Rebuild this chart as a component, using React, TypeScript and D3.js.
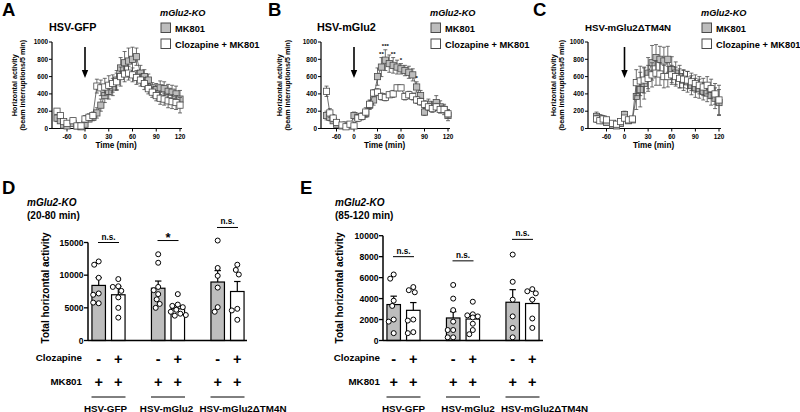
import React from 'react';
import * as d3 from 'd3';

const FONT = "'Liberation Sans', Arial, Helvetica, sans-serif";

// ---------- time-course data (panels A-C) ----------
const TIMES = [-75, -70, -65, -60, -15, -10, -5, 0, 5, 10, 15, 20, 25, 30, 35, 40, 45, 50, 55, 60, 65, 70, 75, 80, 85, 90, 95, 100, 105, 110, 115, 120];
const X_TICKS = [-60, 0, 30, 60, 90, 120];
const Y_TICKS_TIME = [0, 200, 400, 600, 800, 1000];

const A_MK = [120, 90, 40, 30, 60, 30, 20, 50, 110, 130, 180, 270, 380, 430, 480, 560, 700, 760, 780, 800, 830, 640, 600, 560, 470, 450, 470, 460, 430, 420, 400, 340];
const A_MK_ERR = [40, 30, 20, 15, 20, 15, 10, 20, 30, 40, 60, 70, 80, 90, 100, 110, 120, 130, 150, 140, 100, 90, 80, 70, 60, 70, 80, 80, 80, 80, 90, 100];
const A_CLZ = [200, 150, 80, 60, 90, 30, 30, 110, 130, 150, 490, 470, 480, 500, 520, 540, 600, 630, 640, 620, 590, 560, 520, 460, 420, 380, 350, 340, 320, 310, 300, 270];
const A_CLZ_ERR = [30, 30, 20, 20, 30, 15, 10, 40, 40, 40, 80, 90, 100, 110, 100, 100, 110, 90, 80, 80, 80, 70, 70, 60, 60, 60, 70, 70, 80, 80, 80, 90];

const B_MK = [150, 130, 90, 50, 30, 40, 30, 150, 130, 140, 170, 270, 330, 600, 710, 790, 750, 730, 710, 690, 670, 650, 620, 480, 380, 190, 280, 250, 300, 250, 220, 150];
const B_MK_ERR = [50, 40, 30, 20, 20, 20, 15, 40, 30, 30, 40, 50, 60, 100, 110, 120, 100, 90, 80, 60, 60, 70, 70, 60, 60, 40, 60, 60, 80, 70, 60, 60];
const B_CLZ = [430, 180, 120, 70, 40, 20, 50, 30, 120, 140, 190, 280, 410, 420, 370, 360, 390, 400, 470, 470, 370, 390, 370, 330, 310, 280, 250, 230, 250, 220, 220, 170];
const B_CLZ_ERR = [60, 50, 40, 30, 30, 20, 20, 40, 40, 40, 50, 50, 40, 40, 40, 40, 30, 40, 30, 30, 40, 40, 40, 40, 40, 40, 40, 40, 40, 40, 40, 50];
const B_STARS = [
  { t: 35, label: '**' },
  { t: 40, label: '***' },
  { t: 50, label: '**' },
  { t: 60, label: '*' },
  { t: 80, label: '*' },
];

const C_MK = [140, 120, 90, 70, 40, 30, 60, 160, 90, 100, 370, 450, 520, 640, 760, 820, 800, 780, 800, 680, 640, 600, 560, 540, 500, 470, 460, 430, 410, 380, 350, 300];
const C_MK_ERR = [50, 40, 30, 30, 30, 20, 30, 40, 30, 30, 150, 200, 180, 180, 200, 150, 150, 160, 150, 150, 130, 130, 120, 120, 110, 110, 110, 100, 100, 110, 120, 150];
const C_CLZ = [110, 90, 110, 100, 60, 50, 80, 120, 100, 110, 530, 550, 560, 580, 620, 640, 630, 600, 600, 620, 600, 580, 570, 560, 540, 520, 500, 480, 500, 460, 400, 330];
const C_CLZ_ERR = [40, 30, 40, 30, 30, 30, 30, 30, 30, 30, 150, 170, 150, 150, 140, 140, 130, 130, 120, 110, 110, 110, 100, 100, 100, 100, 100, 100, 100, 110, 120, 170];

// ---------- bar data (panels D, E) ----------
const GROUPS = ['HSV-GFP', 'HSV-mGlu2', 'HSV-mGlu2\u0394TM4N'];

const D_MK_MEAN = [8430, 8000, 8950];
const D_MK_SEM = [1200, 1100, 1750];
const D_CLZ_MEAN = [7000, 4850, 7500];
const D_CLZ_SEM = [1300, 500, 1530];
const D_MK_PTS = [
  [12100, 11600, 9600, 7200, 7000, 5700, 5800],
  [13200, 11900, 8200, 7700, 7100, 6300, 5600, 5000],
  [15300, 11100, 9900, 8100, 5100, 4400],
];
const D_CLZ_PTS = [
  [9400, 8300, 8200, 7600, 6600, 5000, 3500],
  [7100, 5500, 5300, 5100, 4700, 4400, 4100, 3900, 3800],
  [11600, 10800, 10100, 4850, 4600, 3170],
];
const D_SIG = [
  { label: 'n.s.', y: 15000 },
  { label: '*', y: 15300 },
  { label: 'n.s.', y: 17300 },
];
const D_TICKS = [0, 5000, 10000, 15000];

const E_MK_MEAN = [3430, 2150, 3650];
const E_MK_SEM = [800, 600, 1200];
const E_CLZ_MEAN = [2880, 2050, 3530];
const E_CLZ_SEM = [740, 280, 400];
const E_MK_PTS = [
  [6300, 5900, 3800, 3300, 2000, 1800, 700],
  [5300, 4000, 2900, 1800, 1000, 1000, 300, 300],
  [8200, 5600, 3900, 2300, 1200, 300],
];
const E_CLZ_PTS = [
  [5100, 4800, 4600, 2000, 1900, 800, 700],
  [3700, 2500, 2400, 2300, 2200, 1600, 1000, 600],
  [4900, 4700, 4500, 3900, 2100, 1200],
];
const E_SIG = [
  { label: 'n.s.', y: 8000 },
  { label: 'n.s.', y: 7600 },
  { label: 'n.s.', y: 9650 },
];
const E_TICKS = [0, 2000, 4000, 6000, 8000, 10000];

const CLZ_SIGNS = ['-', '+'];
const MK_SIGNS = ['+', '+'];

const GRAY = '#bdbdbd';
const EDGE = '#4a4a4a';

// ---------- helpers ----------
function swarm(vals: number[], y: (v: number) => number, r: number): number[] {
  const placed: { x: number; y: number }[] = [];
  return vals.map((v) => {
    const py = y(v);
    let chosen = 0;
    for (let k = 0; k < 40; k++) {
      const off = (k % 2 === 0 ? 1 : -1) * Math.ceil(k / 2) * 0.5;
      if (placed.every((p) => Math.hypot(p.x - off, p.y - py) >= 2 * r + 0.4)) {
        chosen = off;
        break;
      }
    }
    placed.push({ x: chosen, y: py });
    return chosen;
  });
}

type TimeCfg = {
  x0: number; zero: number; end: number; preStart: number;
  letter: string; letterX: number;
  title: string; titleX: number; titleSize: number;
  legendX: number; yl1: number; yl2: number;
  mk: number[]; mkErr: number[]; clz: number[]; clzErr: number[];
  stars?: { t: number; label: string }[];
};

function TimePanel({ c }: { c: TimeCfg }) {
  const x = d3.scaleLinear()
    .domain([-75, -60, -15, 0, 120])
    .range([c.x0 + c.preStart, c.x0 + c.preStart + 10, c.zero - 12, c.zero, c.end]);
  const y = d3.scaleLinear().domain([0, 1000]).range([128.5, 42]);
  const idx = TIMES.map((_, i) => i);
  const segs = [idx.slice(0, 4), idx.slice(4)];

  const series = [
    { vals: c.mk, err: c.mkErr, fill: GRAY },
    { vals: c.clz, err: c.clzErr, fill: '#ffffff' },
  ];
  const line = (vals: number[]) =>
    d3.line<number>().x((i) => x(TIMES[i])).y((i) => y(vals[i]));
  const s = 6.2;
  const yMid = (y(0) + y(1000)) / 2;
  return (
    <g fontFamily={FONT} fontWeight="bold">
      <text x={c.letterX} y={16} fontSize={18.5}>{c.letter}</text>
      <text x={c.titleX} y={31} fontSize={c.titleSize}>{c.title}</text>
      <text x={c.legendX - 1} y={16} fontSize={9.2} fontStyle="italic">mGlu2-KO</text>
      <rect x={c.legendX} y={23} width={9.5} height={9.5} fill={GRAY} stroke={EDGE} strokeWidth={1} />
      <text x={c.legendX + 14} y={31.5} fontSize={9.3}>MK801</text>
      <rect x={c.legendX} y={39} width={9.5} height={9.5} fill="#fff" stroke={EDGE} strokeWidth={1} />
      <text x={c.legendX + 14} y={47.5} fontSize={9.3}>Clozapine + MK801</text>

      <g transform={`translate(${c.yl1},${yMid}) rotate(-90)`}>
        <text textAnchor="middle" fontSize={7.2} y={0}>Horizontal activity</text>
      </g>
      <g transform={`translate(${c.yl2},${yMid}) rotate(-90)`}>
        <text textAnchor="middle" fontSize={7.2} y={0}>(beam interruptions/5 min)</text>
      </g>

      {/* axes */}
      <line x1={c.x0} x2={c.x0} y1={y(0)} y2={y(1000)} stroke="#000" strokeWidth={1.2} />
      <line x1={c.x0} x2={c.end + 2} y1={y(0)} y2={y(0)} stroke="#000" strokeWidth={1.2} />
      {Y_TICKS_TIME.map((t) => (
        <g key={t}>
          <line x1={c.x0 - 3} x2={c.x0} y1={y(t)} y2={y(t)} stroke="#000" strokeWidth={1} />
          <text x={c.x0 - 4} y={y(t) + 2.2} fontSize={6.4} textAnchor="end">{t}</text>
        </g>
      ))}
      {X_TICKS.map((t) => (
        <g key={t}>
          <line x1={x(t)} x2={x(t)} y1={y(0)} y2={y(0) + 3} stroke="#000" strokeWidth={1} />
          <text x={x(t)} y={y(0) + 10} fontSize={6.4} textAnchor="middle">{t}</text>
        </g>
      ))}
      <text x={(c.x0 + c.end) / 2} y={148} fontSize={8.2} textAnchor="middle">Time (min)</text>

      {/* arrow */}
      <line x1={x(0)} x2={x(0)} y1={47} y2={71} stroke="#000" strokeWidth={1.6} />
      <path d={`M${x(0) - 3.2},70 L${x(0) + 3.2},70 L${x(0)},78 Z`} fill="#000" />

      {series.map((se, k) => (
        <g key={k}>
          {segs.map((sg, j) => (
            <path key={j} d={line(se.vals)(sg) || ''} fill="none" stroke={EDGE} strokeWidth={0.8} />
          ))}
          {idx.map((i) => {
            const px = x(TIMES[i]);
            const lo = y(Math.max(0, se.vals[i] - se.err[i]));
            const hi = y(se.vals[i] + se.err[i]);
            return (
              <g key={i} stroke={EDGE} strokeWidth={0.8}>
                <line x1={px} x2={px} y1={lo} y2={hi} />
                <line x1={px - 2} x2={px + 2} y1={hi} y2={hi} />
                <line x1={px - 2} x2={px + 2} y1={lo} y2={lo} />
              </g>
            );
          })}
          {idx.map((i) => (
            <rect key={'m' + i} x={x(TIMES[i]) - s / 2} y={y(se.vals[i]) - s / 2} width={s} height={s}
              fill={se.fill} stroke={EDGE} strokeWidth={0.8} />
          ))}
        </g>
      ))}
      {(c.stars || []).map((st) => {
        const i = TIMES.indexOf(st.t);
        return (
          <text key={st.t} x={x(st.t)} y={y(c.mk[i] + c.mkErr[i]) - 2} fontSize={6} textAnchor="middle">{st.label}</text>
        );
      })}
    </g>
  );
}

type BarCfg = {
  ax: number; axEnd: number; yMax: number; yTopPx: number; ticks: number[];
  letter: string; letterX: number; labX: number; sub: string;
  mkMean: number[]; mkSem: number[]; clzMean: number[]; clzSem: number[];
  mkPts: number[][]; clzPts: number[][]; sig: { label: string; y: number }[];
  ylabX: number; rowRight: number; labelShift: number[];
};

function BarPanel({ c }: { c: BarCfg }) {
  const y = d3.scaleLinear().domain([0, c.yMax]).range([340.5, c.yTopPx]);
  const gx = d3.scalePoint<string>().domain(GROUPS).range([c.ax + 20.5, c.ax + 20.5 + 2 * 59.5]);
  const bx = d3.scalePoint<string>().domain(['MK', 'CLZ']).range([-9.8, 9.8]);
  const bw = 13.5;
  const r = 2.5;
  const conds = [
    { key: 'MK', mean: c.mkMean, sem: c.mkSem, pts: c.mkPts, fill: GRAY },
    { key: 'CLZ', mean: c.clzMean, sem: c.clzSem, pts: c.clzPts, fill: '#fff' },
  ];
  return (
    <g fontFamily={FONT} fontWeight="bold">
      <text x={c.letterX} y={194} fontSize={18.5}>{c.letter}</text>
      <text x={c.labX} y={206} fontSize={10} fontStyle="italic">mGlu2-KO</text>
      <text x={c.labX} y={218.5} fontSize={10}>{c.sub}</text>
      <g transform={`translate(${c.ylabX},288) rotate(-90)`}>
        <text textAnchor="middle" fontSize={10} y={3.5}>Total horizontal activity</text>
      </g>

      {GROUPS.map((g, gi) => (
        <g key={g}>
          {conds.map((cd) => {
            const cx = (gx(g) || 0) + (bx(cd.key) || 0);
            const top = y(cd.mean[gi]);
            const eh = y(cd.mean[gi] + cd.sem[gi]);
            const offs = swarm(cd.pts[gi], y, r);
            return (
              <g key={cd.key}>
                <rect x={cx - bw / 2} y={top} width={bw} height={y(0) - top} fill={cd.fill} stroke="#000" strokeWidth={1.2} />
                <line x1={cx} x2={cx} y1={top} y2={eh} stroke="#000" strokeWidth={1.2} />
                <line x1={cx - 3.2} x2={cx + 3.2} y1={eh} y2={eh} stroke="#000" strokeWidth={1.2} />
                {cd.pts[gi].map((v, k) => (
                  <circle key={k} cx={cx + offs[k]} cy={y(v)} r={r} fill="#fff" stroke="#000" strokeWidth={1} />
                ))}
              </g>
            );
          })}
          {/* significance */}
          <line x1={(gx(g) || 0) - 10.5} x2={(gx(g) || 0) + 10.5} y1={y(c.sig[gi].y)} y2={y(c.sig[gi].y)} stroke="#000" strokeWidth={1} />
          <text x={gx(g)} y={y(c.sig[gi].y) - (c.sig[gi].label === '*' ? -1.5 : 3)} textAnchor="middle"
            fontSize={c.sig[gi].label === '*' ? 13 : 8.2}>{c.sig[gi].label}</text>
          {/* sign rows */}
          {['MK', 'CLZ'].map((k, j) => (
            <g key={k}>
              <text x={(gx(g) || 0) + (bx(k) || 0)} y={364} textAnchor="middle" fontSize={14.5}>{CLZ_SIGNS[j]}</text>
              <text x={(gx(g) || 0) + (bx(k) || 0)} y={386.5} textAnchor="middle" fontSize={14.5}>{MK_SIGNS[j]}</text>
            </g>
          ))}
          <line x1={(gx(g) || 0) - 17} x2={(gx(g) || 0) + 17} y1={397} y2={397} stroke="#000" strokeWidth={1} />
          <text x={(gx(g) || 0) + c.labelShift[gi]} y={411.5} textAnchor="middle" fontSize={9.8}>{g}</text>
        </g>
      ))}

      {/* axes */}
      <line x1={c.ax} x2={c.ax} y1={y(0)} y2={y(c.ticks[c.ticks.length - 1])} stroke="#000" strokeWidth={1.5} />
      <line x1={c.ax} x2={c.axEnd} y1={y(0)} y2={y(0)} stroke="#000" strokeWidth={1.5} />
      {c.ticks.map((t) => (
        <g key={t}>
          <line x1={c.ax - 4} x2={c.ax} y1={y(t)} y2={y(t)} stroke="#000" strokeWidth={1.3} />
          <text x={c.ax - 4.5} y={y(t) + 3} textAnchor="end" fontSize={8.6}>{t}</text>
        </g>
      ))}
      <text x={c.rowRight} y={360.5} textAnchor="end" fontSize={9.8}>Clozapine</text>
      <text x={c.rowRight} y={384.5} textAnchor="end" fontSize={9.8}>MK801</text>
    </g>
  );
}

export default function App() {
  const panels: TimeCfg[] = [
    { x0: 52, zero: 85, end: 180, preStart: 5, letter: 'A', letterX: 2, title: 'HSV-GFP', titleX: 49, titleSize: 10.8,
      legendX: 161, yl1: 16.5, yl2: 24.5, mk: A_MK, mkErr: A_MK_ERR, clz: A_CLZ, clzErr: A_CLZ_ERR },
    { x0: 321, zero: 354, end: 448, preStart: 5.5, letter: 'B', letterX: 268, title: 'HSV-mGlu2', titleX: 317, titleSize: 10.8,
      legendX: 431, yl1: 282, yl2: 290, mk: B_MK, mkErr: B_MK_ERR, clz: B_CLZ, clzErr: B_CLZ_ERR, stars: B_STARS },
    { x0: 588, zero: 624.5, end: 719, preStart: 8.5, letter: 'C', letterX: 533, title: 'HSV-mGlu2\u0394TM4N', titleX: 585, titleSize: 9.7,
      legendX: 702, yl1: 556, yl2: 563.5, mk: C_MK, mkErr: C_MK_ERR, clz: C_CLZ, clzErr: C_CLZ_ERR },
  ];
  const bars: BarCfg[] = [
    { ax: 88, axEnd: 247, yMax: 15000, yTopPx: 242.5, ticks: D_TICKS, letter: 'D', letterX: 2, labX: 27, sub: '(20-80 min)',
      mkMean: D_MK_MEAN, mkSem: D_MK_SEM, clzMean: D_CLZ_MEAN, clzSem: D_CLZ_SEM, mkPts: D_MK_PTS, clzPts: D_CLZ_PTS,
      sig: D_SIG, ylabX: 45, rowRight: 82, labelShift: [-3, -1.5, 15.5] },
    { ax: 383, axEnd: 543, yMax: 10000, yTopPx: 235.7, ticks: E_TICKS, letter: 'E', letterX: 300, labX: 335, sub: '(85-120 min)',
      mkMean: E_MK_MEAN, mkSem: E_MK_SEM, clzMean: E_CLZ_MEAN, clzSem: E_CLZ_SEM, mkPts: E_MK_PTS, clzPts: E_CLZ_PTS,
      sig: E_SIG, ylabX: 339, rowRight: 380, labelShift: [0, 5, 22] },
  ];
  return (
    <svg width={800} height={412} style={{ position: 'absolute', left: 0, top: 0, background: '#fff' }}>
      <rect width={800} height={412} fill="#fff" />
      {panels.map((p) => <TimePanel key={p.letter} c={p} />)}
      {bars.map((b) => <BarPanel key={b.letter} c={b} />)}
    </svg>
  );
}
